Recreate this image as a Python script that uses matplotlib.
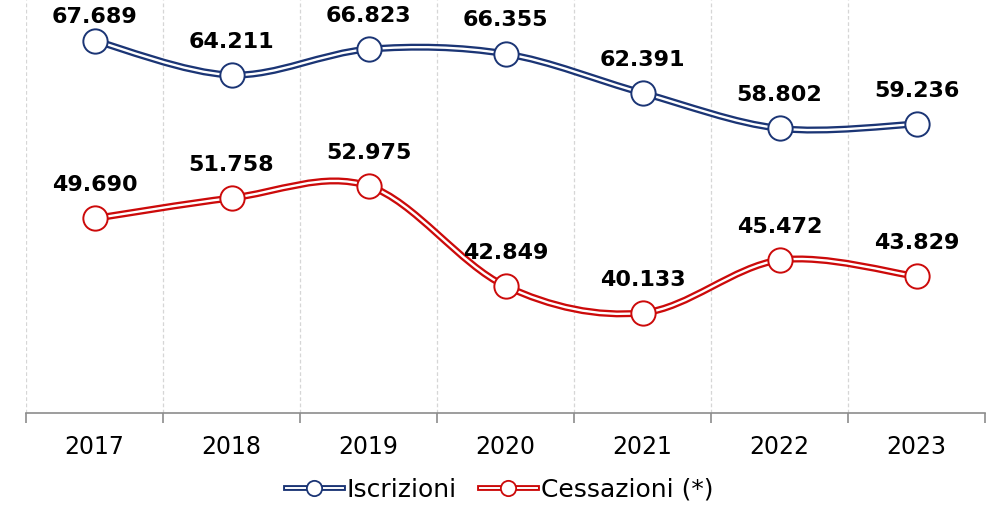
import matplotlib.pyplot as plt
from matplotlib.path import Path
from matplotlib.patches import PathPatch
from matplotlib.lines import Line2D
from matplotlib.legend_handler import HandlerTuple

anni = ['2017', '2018', '2019', '2020', '2021', '2022', '2023']
iscrizioni = [67689, 64211, 66823, 66355, 62391, 58802, 59236]
cessazioni = [49690, 51758, 52975, 42849, 40133, 45472, 43829]

BLU = '#1b3575'
ROSSO = '#cc0a0a'

plt.rcParams['font.family'] = ['DejaVu Sans']


def curva(xs, ys):
    # curva liscia tipo Excel (Catmull-Rom -> Bezier cubiche)
    pts = list(zip(xs, ys))
    verts = [pts[0]]
    codes = [Path.MOVETO]
    n = len(pts)
    for i in range(n - 1):
        p0 = pts[i - 1] if i > 0 else pts[i]
        p1 = pts[i]
        p2 = pts[i + 1]
        p3 = pts[i + 2] if i + 2 < n else pts[i + 1]
        c1 = (p1[0] + (p2[0] - p0[0]) / 6, p1[1] + (p2[1] - p0[1]) / 6)
        c2 = (p2[0] - (p3[0] - p1[0]) / 6, p2[1] - (p3[1] - p1[1]) / 6)
        verts += [c1, c2, p2]
        codes += [Path.CURVE4] * 3
    return Path(verts, codes)


fig = plt.figure(figsize=(9.97, 5.05), dpi=100)
ax = fig.add_axes([26 / 997, (505 - 413) / 505, (985 - 26) / 997, 413 / 505])

x = list(range(len(anni)))

for serie, col in [(iscrizioni, BLU), (cessazioni, ROSSO)]:
    ax.add_patch(PathPatch(curva(x, serie), fill=False, ec=col, lw=5.0, zorder=3,
                           capstyle='round'))
    ax.add_patch(PathPatch(curva(x, serie), fill=False, ec='white', lw=1.7, zorder=4))
    ax.plot(x, serie, 'o', ms=17.5, mfc='white', mec=col, mew=1.4, zorder=5)
    for i, v in enumerate(serie):
        off = 24 if not (serie is iscrizioni and i == 0) else 17
        ax.annotate(f'{v/1000:.3f}', (i, v), xytext=(0, off), textcoords='offset points',
                    ha='center', va='center', fontsize=16, fontweight='heavy',
                    color='black', zorder=6)

ax.set_xlim(-0.5, len(anni) - 0.5)
ax.set_ylim(30000, 71800)

for s in ['top', 'right', 'left']:
    ax.spines[s].set_visible(False)
ax.spines['bottom'].set_color('#8c8c8c')
ax.spines['bottom'].set_linewidth(1.2)
ax.set_yticks([])

ax.set_xticks(x)
ax.set_xticklabels(anni, fontsize=17)
ax.tick_params(axis='x', which='major', length=0, pad=16)
bordi = [i - 0.5 for i in range(len(anni) + 1)]
ax.set_xticks(bordi, minor=True)
ax.tick_params(axis='x', which='minor', length=7, color='#8c8c8c', width=1.2)
for b in bordi[:-1]:
    ax.axvline(b, color='#d6d6d6', lw=0.9, ls=(0, (3, 2)), zorder=1)

handles = []
for col in [BLU, ROSSO]:
    h1 = Line2D([], [], color=col, lw=4.2)
    h2 = Line2D([], [], color='white', lw=1.4, marker='o', ms=11, mfc='white', mec=col, mew=1.3)
    handles.append((h1, h2))
fig.legend(handles, ['Iscrizioni', 'Cessazioni (*)'], loc='center', bbox_to_anchor=(0.501, 1 - 490 / 505),
           ncol=2, frameon=False, fontsize=18, handlelength=2.3, handletextpad=0.15, columnspacing=0.9,
           handler_map={tuple: HandlerTuple(ndivide=1)})

fig.savefig('out.png', dpi=100)
